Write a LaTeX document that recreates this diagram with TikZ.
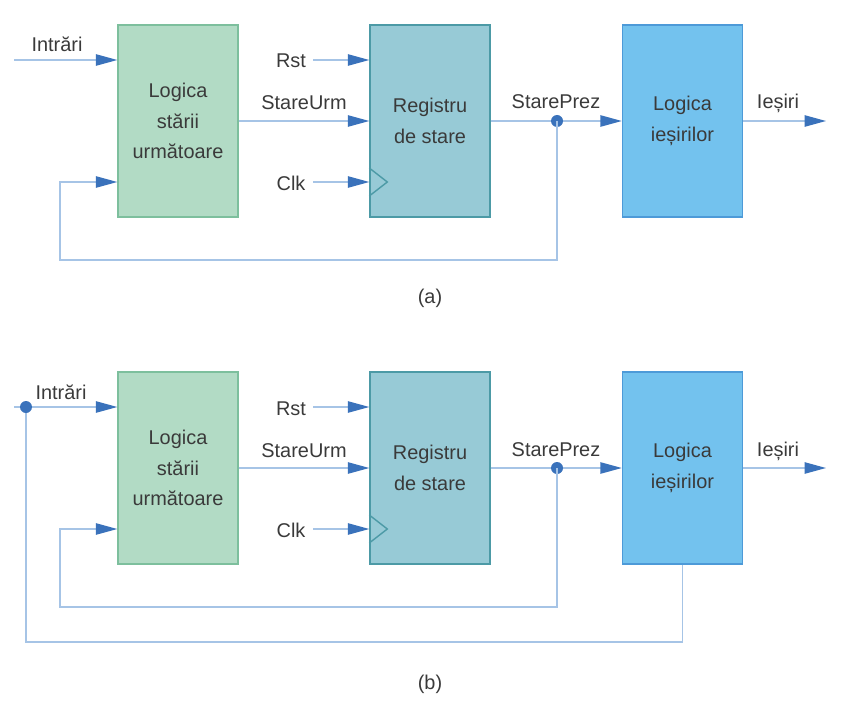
\documentclass[tikz,border=0pt]{standalone}
\usepackage{fontspec}
\setmainfont{Liberation Sans}
\usetikzlibrary{arrows.meta,calc}
\definecolor{wireblue}{HTML}{A6C4E6}
\definecolor{tipblue}{HTML}{3A72BB}
\definecolor{textgray}{HTML}{3A3A3A}
\definecolor{greenfill}{HTML}{B2DBC5}
\definecolor{greenline}{HTML}{7DBF9D}
\definecolor{tealfill}{HTML}{97CAD6}
\definecolor{tealline}{HTML}{4C9AA6}
\definecolor{bluefill}{HTML}{73C2EE}
\definecolor{blueline}{HTML}{4D9AD8}

\tikzstyle{block} = [rectangle, minimum width=3.6cm, minimum height=5.76cm, inner sep=0pt, line width=1.2pt, align=center, text=textgray, font=\fontsize{17}{26}\selectfont]
\tikzstyle{nextbox} = [block, fill=greenfill, draw=greenline]
\tikzstyle{regbox} = [block, fill=tealfill, draw=tealline]
\tikzstyle{outbox} = [block, fill=bluefill, draw=blueline]
\tikzstyle{sig} = [anchor=base, inner sep=0pt, text=textgray, font=\fontsize{17}{20}\selectfont]
\tikzstyle{wire} = [draw=wireblue, line width=1.1pt]
\tikzstyle{arrowed} = [wire, -{Triangle[length=0.64cm, width=0.34cm, color=tipblue]}]
\tikzstyle{junction} = [circle, fill=tipblue, minimum size=0.36cm, inner sep=0pt]
\tikzstyle{clockmark} = [draw=tealline, line width=1.2pt]

\begin{document}
\begin{tikzpicture}[x=0.03cm, y=-0.03cm]
\useasboundingbox (0,0) rectangle (841,705);
%begin diagram a
\node[nextbox] (ns1) at (178,121) {Logica\\stării\\următoare};
\node[regbox] (reg1) at (430,121) {Registru\\de stare};
\node[outbox] (out1) at (682.5,121) {Logica\\ieșirilor};
\coordinate (in1) at (14,60);
\coordinate (rst1) at (313,60);
\coordinate (clk1) at (313,182);
\coordinate (y1) at (826,121);
\coordinate (fb1) at (60,260);
\node[sig] (lin1) at (57,52) {Intrări};
\node[sig] (lrst1) at (291,68) {Rst};
\node[sig] (lnext1) at (304,110) {StareUrm};
\node[sig] (lclk1) at (291,190) {Clk};
\node[sig] (lq1) at (556,109) {StarePrez};
\node[sig] (ly1) at (778,109) {Ieșiri};
%wires a
\draw[arrowed] (in1) -- (in1 -| ns1.west);
\draw[arrowed] (rst1) -- (rst1 -| reg1.west);
\draw[arrowed] (clk1) -- (clk1 -| reg1.west);
\draw[arrowed] (ns1.east) -- (reg1.west);
\draw[arrowed] (reg1.east) -- (out1.west);
\draw[arrowed] (out1.east) -- (y1);
\node[junction] (q1) at (557,121) {};
\draw[arrowed] (q1.center) |- (fb1) |- (ns1.west |- clk1);
\draw[clockmark] ($(clk1 -| reg1.west)+(0,-14)$) -- ++(18,14) -- ++(-18,14);
\node[sig] (cap1) at (430,303) {(a)};
%end diagram a
%begin diagram b
\node[nextbox] (ns2) at (178,468) {Logica\\stării\\următoare};
\node[regbox] (reg2) at (430,468) {Registru\\de stare};
\node[outbox] (out2) at (682.5,468) {Logica\\ieșirilor};
\coordinate (in2) at (14,407);
\coordinate (rst2) at (313,407);
\coordinate (clk2) at (313,529);
\coordinate (y2) at (826,468);
\coordinate (fb2) at (60,607);
\coordinate (lp2) at (26,642);
\node[sig] (lin2) at (61,399) {Intrări};
\node[sig] (lrst2) at (291,415) {Rst};
\node[sig] (lnext2) at (304,457) {StareUrm};
\node[sig] (lclk2) at (291,537) {Clk};
\node[sig] (lq2) at (556,456) {StarePrez};
\node[sig] (ly2) at (778,456) {Ieșiri};
%wires b
\draw[arrowed] (in2) -- (in2 -| ns2.west);
\draw[arrowed] (rst2) -- (rst2 -| reg2.west);
\draw[arrowed] (clk2) -- (clk2 -| reg2.west);
\draw[arrowed] (ns2.east) -- (reg2.west);
\draw[arrowed] (reg2.east) -- (out2.west);
\draw[arrowed] (out2.east) -- (y2);
\node[junction] (q2) at (557,468) {};
\draw[arrowed] (q2.center) |- (fb2) |- (ns2.west |- clk2);
\draw[wire] (out2.south) |- (lp2) -- (lp2 |- in2);
\node[junction] (ind2) at (26,407) {};
\draw[clockmark] ($(clk2 -| reg2.west)+(0,-14)$) -- ++(18,14) -- ++(-18,14);
\node[sig] (cap2) at (430,689) {(b)};
%end diagram b
\end{tikzpicture}
\end{document}
